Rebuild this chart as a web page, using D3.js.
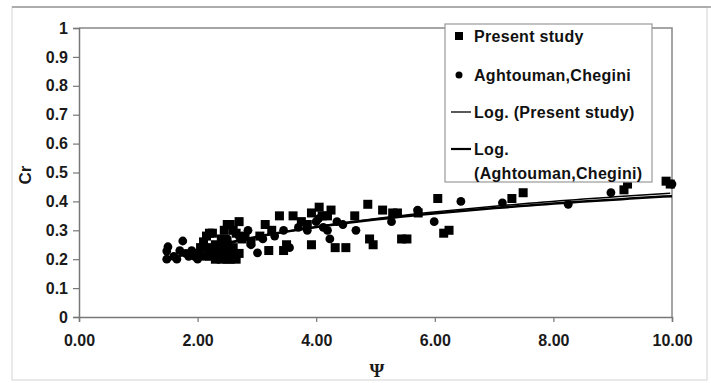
<!DOCTYPE html>
<html><head><meta charset="utf-8">
<script src="https://cdn.jsdelivr.net/npm/d3@7"></script>
<style>body{margin:0;background:#fff}svg{display:block}</style>
</head><body>
<svg id="c" width="711" height="383"></svg>
<script>
// ---- data ----
const presentX = [2.0,2.05,2.1,2.15,2.2,2.25,2.2,2.3,2.35,2.4,2.45,2.5,2.55,2.6,2.65,2.3,2.4,2.45,2.5,2.55,2.6,2.7,2.65,2.5,2.6,2.75,2.8,2.9,3.05,3.14,3.2,3.25,3.38,3.45,3.5,3.61,3.75,3.85,3.92,3.92,4.05,4.1,4.19,4.25,4.32,4.5,4.65,4.87,4.9,4.96,5.12,5.29,5.37,5.44,5.53,5.72,6.05,6.15,6.24,7.3,7.49,9.19,9.25,9.9,9.97,2.35,2.45,2.55,2.2,2.7];
const presentY = [0.22,0.24,0.26,0.28,0.29,0.29,0.21,0.2,0.22,0.2,0.21,0.2,0.2,0.21,0.2,0.25,0.27,0.3,0.32,0.32,0.3,0.33,0.29,0.25,0.24,0.27,0.28,0.26,0.28,0.32,0.23,0.3,0.35,0.23,0.25,0.35,0.33,0.32,0.36,0.25,0.38,0.35,0.35,0.37,0.24,0.24,0.35,0.39,0.27,0.25,0.37,0.36,0.36,0.27,0.27,0.36,0.41,0.29,0.3,0.41,0.43,0.44,0.46,0.47,0.46,0.23,0.24,0.23,0.24,0.22];
const aghX = [1.48,1.48,1.5,1.6,1.65,1.7,1.75,1.8,1.85,1.9,1.95,2.0,2.05,2.1,2.15,2.3,2.5,2.7,2.85,2.9,3.01,3.1,3.3,3.45,3.55,3.7,3.85,4.0,4.04,4.12,4.19,4.23,4.35,4.45,4.67,5.27,5.71,5.99,6.44,7.14,8.25,8.97,10.0];
const aghY = [0.2,0.228,0.243,0.21,0.2,0.23,0.263,0.22,0.21,0.23,0.21,0.2,0.23,0.21,0.24,0.23,0.27,0.28,0.3,0.25,0.222,0.27,0.28,0.3,0.24,0.31,0.3,0.33,0.34,0.31,0.3,0.27,0.33,0.32,0.3,0.33,0.37,0.33,0.4,0.395,0.39,0.43,0.46];
const xTicks = [0,2,4,6,8,10];
const yTicks = [0,0.1,0.2,0.3,0.4,0.5,0.6,0.7,0.8,0.9,1];
const legendLabels = ["Present study","Aghtouman,Chegini","Log. (Present study)","Log.|(Aghtouman,Chegini)"];

// ---- drawing ----
const svg = d3.select("#c");
const L = 79, R = 672, T = 28, B = 317;
const x = d3.scaleLinear().domain([0,10]).range([L,R]);
const y = d3.scaleLinear().domain([0,1]).range([B,T]);
const FONT = "'Liberation Sans', Arial, sans-serif";

// outer frame
svg.append("rect").attr("x",12).attr("y",7).attr("width",695).attr("height",373)
  .attr("fill","none").attr("stroke","#e2e2e2").attr("stroke-width",1.5);
svg.append("line").attr("x1",12).attr("x2",711).attr("y1",7).attr("y2",7)
  .attr("stroke","#999").attr("stroke-width",1.5);

// plot border (top & right)
svg.append("path").attr("d",`M${L},${T}H${R}V${B}`).attr("fill","none")
  .attr("stroke","#888").attr("stroke-width",1.5);

// axes
const xAxis = d3.axisBottom(x).tickValues(xTicks).tickSize(5).tickPadding(13).tickFormat(d3.format(".2f"));
const yAxis = d3.axisLeft(y).tickValues(yTicks).tickSize(6).tickPadding(5).tickFormat(d=>d3.format("~g")(d));
const gx = svg.append("g").attr("transform",`translate(0,${B})`).call(xAxis);
const gy = svg.append("g").attr("transform",`translate(${L},0)`).call(yAxis);
[gx,gy].forEach(g=>{
  g.select(".domain").attr("stroke","#777").attr("stroke-width",1.5);
  g.selectAll(".tick line").attr("stroke","#777").attr("stroke-width",1.2);
  g.selectAll("text").attr("font-family",FONT).attr("font-weight","bold").attr("font-size",16).attr("fill","#1a1a1a");
});

// axis titles
svg.append("text").attr("transform","translate(31,175) rotate(-90)").attr("text-anchor","middle")
  .attr("font-family",FONT).attr("font-weight","bold").attr("font-size",17).attr("fill","#1a1a1a").text("Cr");
svg.append("text").attr("x",377).attr("y",377).attr("text-anchor","middle")
  .attr("font-family","'Liberation Serif','Times New Roman',serif").attr("font-weight","bold").attr("font-size",19).attr("fill","#1a1a1a").text("Ψ");

// log regression
function logFit(xs, ys){
  const lx = xs.map(Math.log), n = xs.length;
  const mx = d3.mean(lx), my = d3.mean(ys);
  let sxy=0,sxx=0;
  for(let i=0;i<n;i++){sxy+=(lx[i]-mx)*(ys[i]-my);sxx+=(lx[i]-mx)**2;}
  const a = sxy/sxx; return {a, b: my - a*mx};
}
function trend(xs, ys, w){
  const f = logFit(xs, ys);
  const [x0,x1] = d3.extent(xs);
  const pts = d3.range(0,61).map(i=>x0+(x1-x0)*i/60);
  svg.append("path").attr("d", d3.line().x(d=>x(d)).y(d=>y(f.a*Math.log(d)+f.b))(pts))
    .attr("fill","none").attr("stroke","#000").attr("stroke-width",w);
}

const sq = 9;
svg.append("g").selectAll("rect").data(presentX.map((v,i)=>[v,presentY[i]])).join("rect")
  .attr("x",d=>x(d[0])-sq/2).attr("y",d=>y(d[1])-sq/2).attr("width",sq).attr("height",sq).attr("fill","#000");
svg.append("g").selectAll("circle").data(aghX.map((v,i)=>[v,aghY[i]])).join("circle")
  .attr("cx",d=>x(d[0])).attr("cy",d=>y(d[1])).attr("r",4.4).attr("fill","#000");

trend(presentX, presentY, 1.5);
trend(aghX, aghY, 2.5);

// legend
const lg = svg.append("g");
lg.append("rect").attr("x",445).attr("y",24).attr("width",207).attr("height",158)
  .attr("fill","#fff").attr("stroke","#999").attr("stroke-width",1.2);
const rows = [36,75,112,149];
const tx = 474;
lg.append("rect").attr("x",455).attr("y",rows[0]-4).attr("width",8).attr("height",8).attr("fill","#000");
lg.append("circle").attr("cx",459).attr("cy",rows[1]).attr("r",3.5).attr("fill","#000");
lg.append("line").attr("x1",451).attr("x2",471).attr("y1",rows[2]).attr("y2",rows[2]).attr("stroke","#000").attr("stroke-width",1.3);
lg.append("line").attr("x1",451).attr("x2",471).attr("y1",rows[3]).attr("y2",rows[3]).attr("stroke","#000").attr("stroke-width",2.2);
legendLabels.forEach((lab,i)=>{
  const parts = lab.split("|");
  parts.forEach((p,j)=>{
    lg.append("text").attr("x",tx).attr("y",rows[i]+6+j*24)
      .attr("font-family",FONT).attr("font-weight","bold").attr("font-size",16)
      .attr("letter-spacing",0.3).attr("fill","#111").text(p);
  });
});
</script>
</body></html>
